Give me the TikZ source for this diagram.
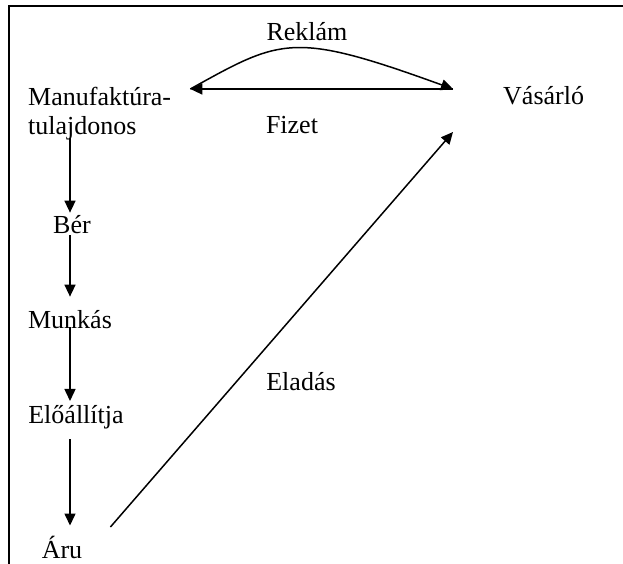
\documentclass[tikz,border=0pt]{standalone}
\usepackage{fontspec}
\setmainfont{Liberation Serif}
\usetikzlibrary{positioning, arrows.meta}

\begin{document}
\begin{tikzpicture}[x=1pt,y=-1pt,>={Triangle[length=12pt,width=11pt]},
        lbl/.style={inner sep=0pt, font=\fontsize{26}{29}\selectfont},
        flow/.style={->, line width=1.5pt}]
        \useasboundingbox (0,0) rectangle (623,564);
        \draw[line width=2pt] (623,6) -- (9,6) -- (9,564);

        \node at (28,113.5) [lbl, anchor=west, align=left] (owner) {Manufaktúra-\\tulajdonos};
        \node at (503,96) [lbl, anchor=west] (buyer) {Vásárló};
        \node at (307,32) [lbl] (reklam) {Reklám};
        \node at (292,125) [lbl] (fizet) {Fizet};
        \node at (301,382) [lbl] (eladas) {Eladás};

        \node at (72,225) [lbl] (ber) {Bér};
        \node at (70,320) [lbl] (munkas) {Munkás};
        \node at (76,417) [lbl] (eloallit) {Előállítja};
        \node at (62,547) [lbl] (aru) {Áru};

        % ends of the two top arrows and of the sale arrow
        \coordinate (col) at (70,0);
        \coordinate (fizL) at ([xshift=19pt,yshift=24.5pt]owner.east);
        \coordinate (fizR) at ([xshift=-50pt,yshift=7pt]buyer.west);

        \draw[flow] (fizR) -- (fizL);
        \draw[flow] (fizL) .. controls (282,38) and (293,31) .. (fizR);

        \draw[flow] ([yshift=2pt]owner.south -| col) -- ([yshift=3pt]ber.north -| col);
        \draw[flow] ([yshift=-1pt]ber.south -| col) -- ([yshift=14pt]munkas.north -| col);
        \draw[flow] ([yshift=-7pt]munkas.center -| col) -- ([yshift=4pt]eloallit.north -| col);
        \draw[flow] ([yshift=-10pt]eloallit.south -| col) -- ([yshift=10pt]aru.north -| col);
        \draw[flow] ([xshift=28pt,yshift=20pt]aru.east) -- ([xshift=-50pt,yshift=-36pt]buyer.west);
    \end{tikzpicture}
\end{document}
